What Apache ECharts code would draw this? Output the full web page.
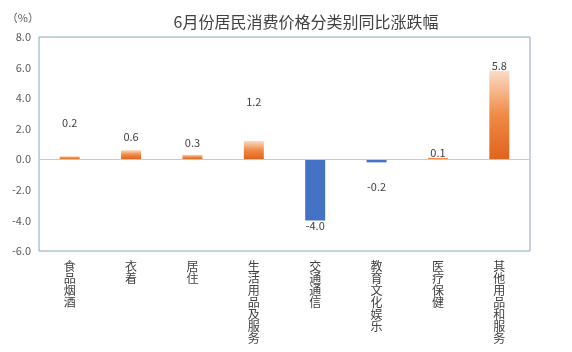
<!DOCTYPE html>
<html>
<head>
<meta charset="utf-8">
<script src="https://cdn.jsdelivr.net/npm/echarts@6/dist/echarts.min.js"></script>
<style>
  html, body { margin: 0; padding: 0; background: #fff; }
  #main { width: 572px; height: 352px; }
</style>
</head>
<body>
<div id="main"></div>
<script>
var categories = ['食品烟酒', '衣着', '居住', '生活用品及服务', '交通通信', '教育文化娱乐', '医疗保健', '其他用品和服务'];
var values = [0.2, 0.6, 0.3, 1.2, -4.0, -0.2, 0.1, 5.8];
var yTicks = [-6, -4, -2, 0, 2, 4, 6, 8];

// labels were hand-placed in the original; extra shift in px per bar
var labelShift = [26, 6, 4, 32, -2, 17, -3, -3];

var myChart = echarts.init(document.getElementById('main'));

var upColor = new echarts.graphic.LinearGradient(0, 0, 0, 1, [
    {offset: 0, color: '#fbdcc6'},
    {offset: 0.5, color: '#f08a45'},
    {offset: 1, color: '#e0631d'}
]);

var barData = values.map(function (v, i) {
    var neg = v < 0;
    return {
        value: v,
        itemStyle: {color: neg ? '#4472c4' : upColor},
        label: {
            position: neg ? 'bottom' : 'top',
            offset: [0, neg ? labelShift[i] : -labelShift[i]]
        }
    };
});

var option = {
    animation: false,
    textStyle: {fontFamily: '"Noto Sans CJK SC", "DejaVu Sans", sans-serif'},
    title: {
        text: '6月份居民消费价格分类别同比涨跌幅',
        left: 301,
        textAlign: 'center',
        top: 9,
        textStyle: {fontSize: 16, fontWeight: 'normal', color: '#404040'}
    },
    grid: {
        left: 39, right: 42, top: 37, bottom: 101,
        show: true,
        borderColor: '#86a9b8',
        borderWidth: 1,
        backgroundColor: 'transparent'
    },
    xAxis: {
        type: 'category',
        data: categories,
        axisLine: {onZero: false, show: false},
        axisTick: {show: false},
        axisLabel: {
            interval: 0,
            fontSize: 12,
            lineHeight: 12,
            color: '#404040',
            verticalAlign: 'top',
            margin: 9,
            formatter: function (s) { return s.split('').join('\n'); }
        }
    },
    yAxis: {
        type: 'value',
        min: yTicks[0],
        max: yTicks[yTicks.length - 1],
        interval: 2,
        name: '（%）',
        nameLocation: 'end',
        nameGap: 14,
        nameTextStyle: {fontSize: 11, color: '#595959', align: 'right', padding: [0, 0, 0, 0]},
        axisLine: {show: false},
        axisTick: {show: false},
        splitLine: {show: false},
        axisLabel: {
            fontSize: 11,
            color: '#595959',
            margin: 8,
            formatter: function (v) { return v.toFixed(1); }
        }
    },
    series: [{
        type: 'bar',
        data: barData,
        barWidth: 20,
        label: {
            show: true,
            distance: 2,
            fontSize: 11,
            color: '#404040',
            formatter: function (p) { return p.value.toFixed(1); }
        },
        markLine: {
            silent: true,
            symbol: 'none',
            label: {show: false},
            lineStyle: {color: '#c9c9c9', type: 'solid', width: 1},
            data: [{yAxis: 0}]
        }
    }]
};

myChart.setOption(option);
</script>
</body>
</html>
